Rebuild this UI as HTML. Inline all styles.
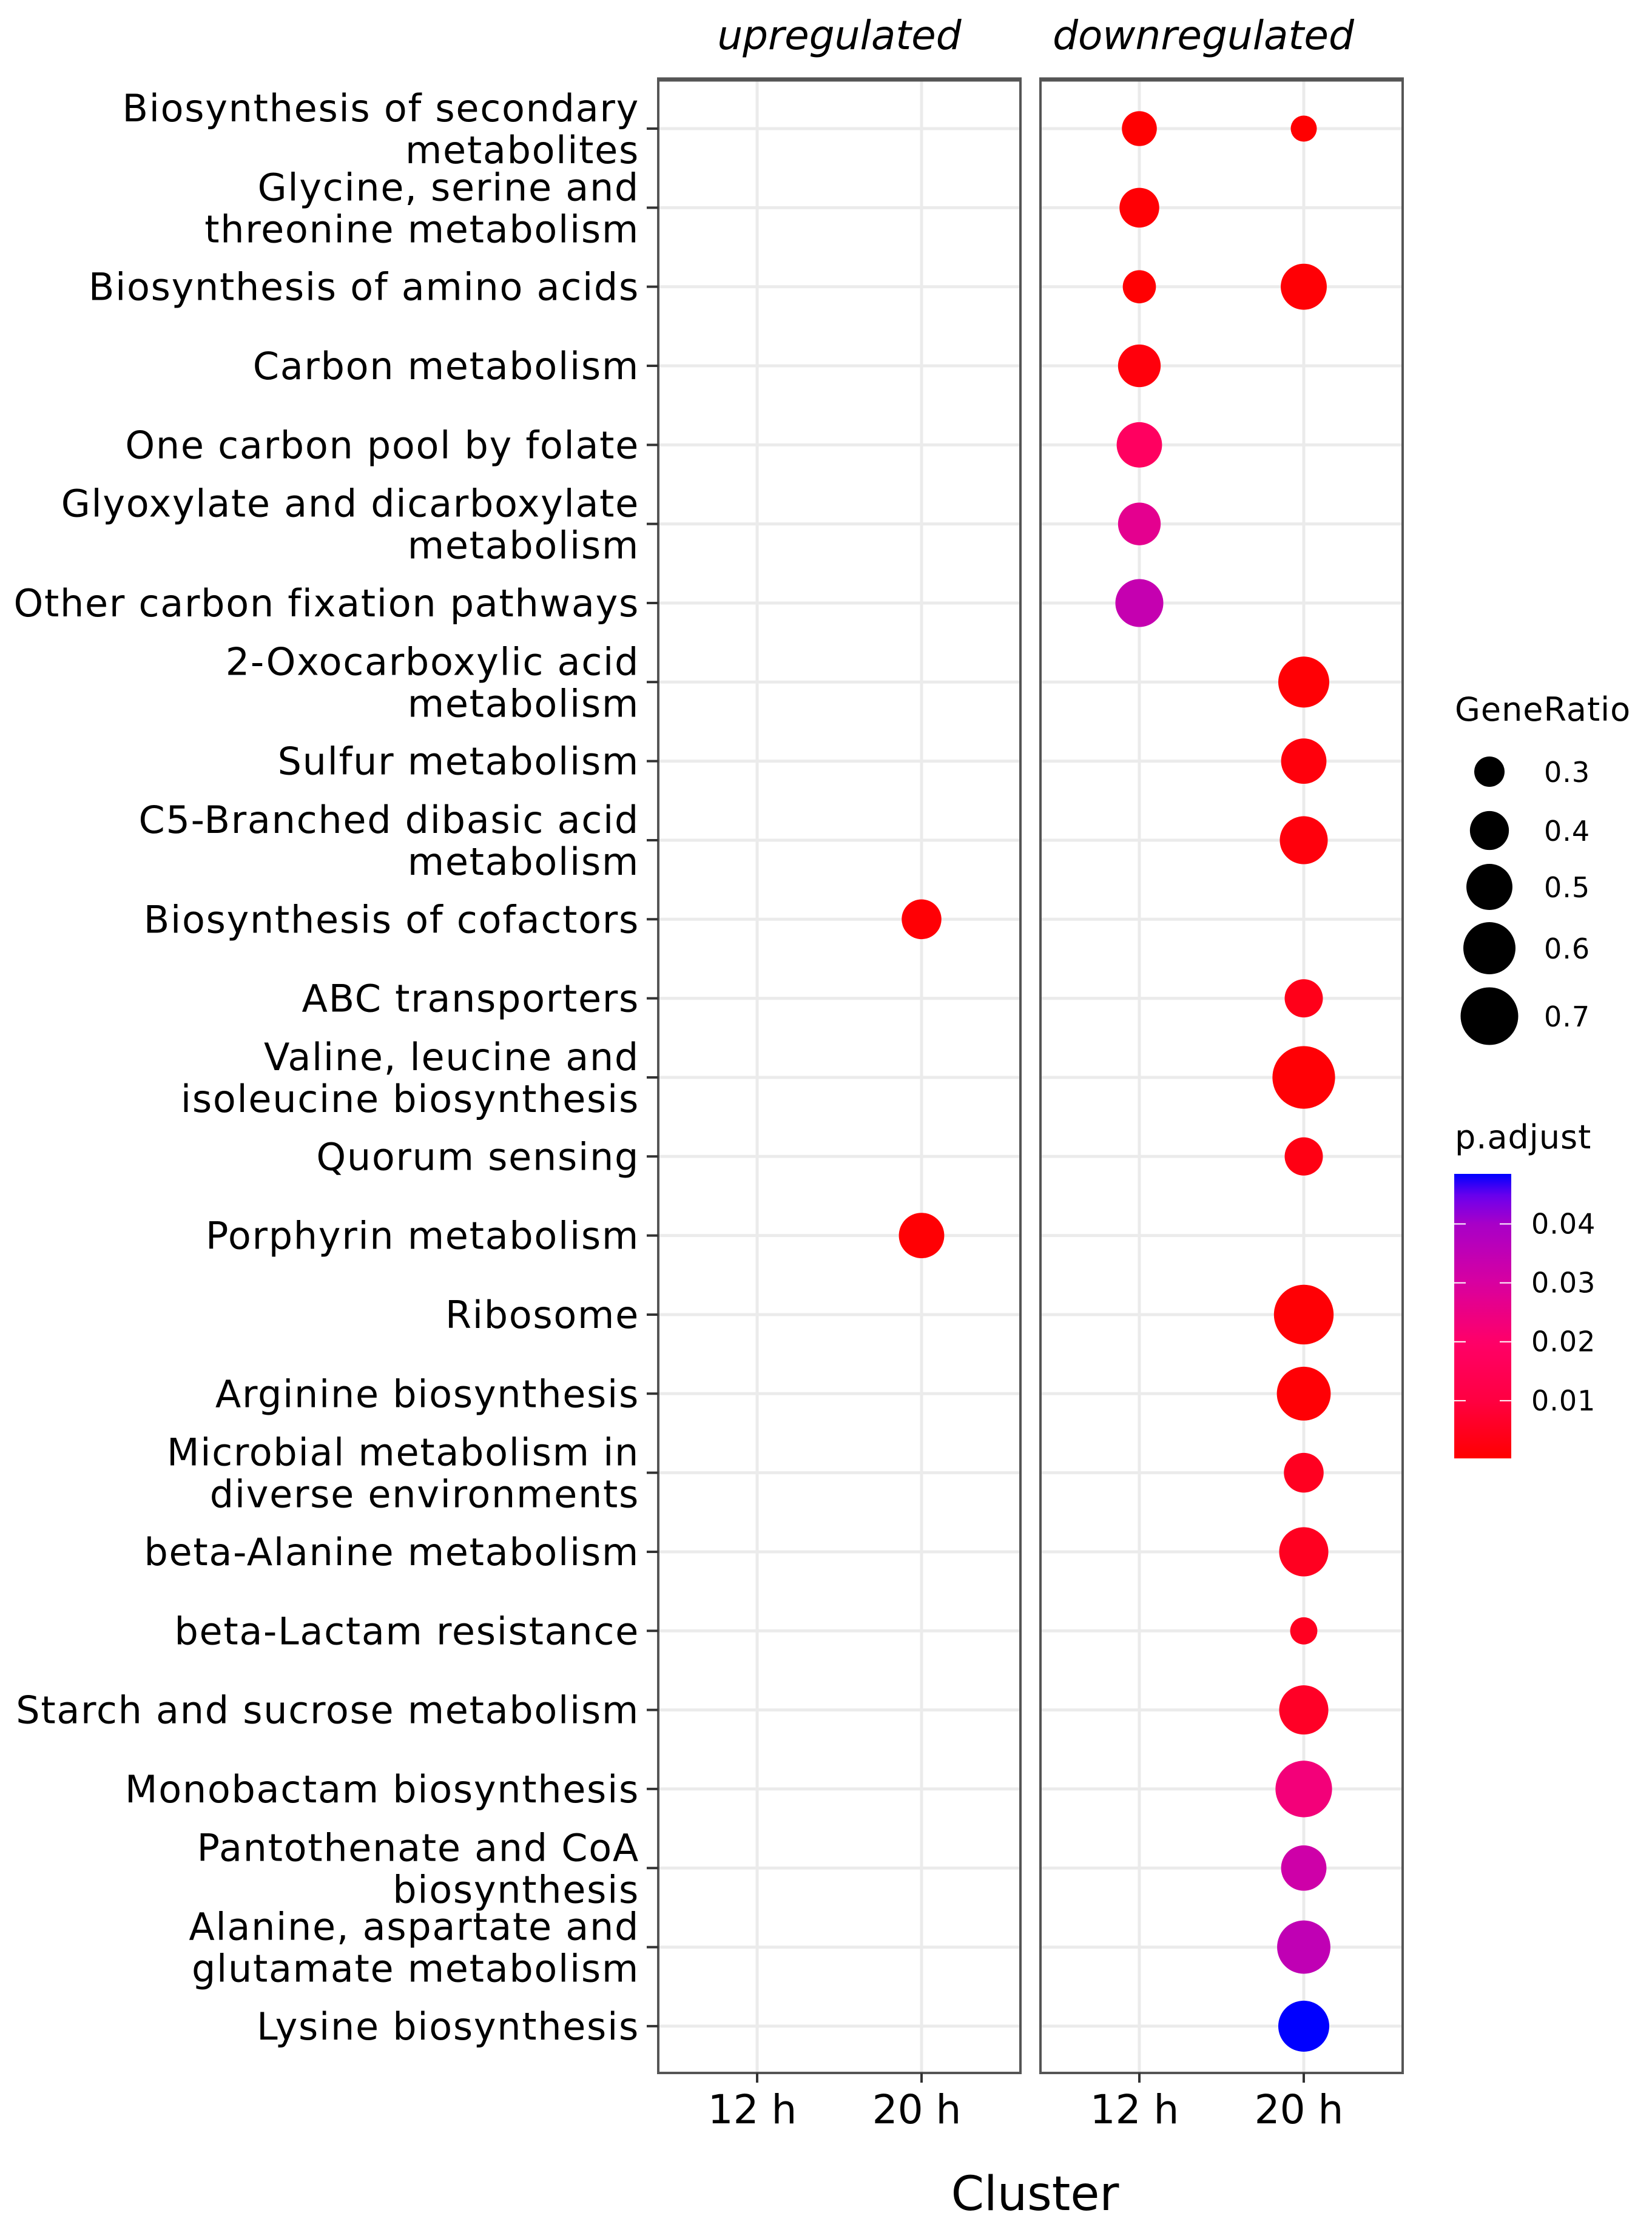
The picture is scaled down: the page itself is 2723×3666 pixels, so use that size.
<!DOCTYPE html>
<html><head><meta charset="utf-8"><style>
html,body{margin:0;padding:0;background:#fff}
svg{display:block}
text{font-family:"DejaVu Sans","Liberation Sans",sans-serif;fill:#000}
</style></head><body>
<svg id="chart" width="2723" height="3666" viewBox="0 0 2723 3666" xmlns="http://www.w3.org/2000/svg"></svg>
<script>
const categories = [
 ["Biosynthesis of secondary","metabolites"],["Glycine, serine and","threonine metabolism"],["Biosynthesis of amino acids"],["Carbon metabolism"],["One carbon pool by folate"],["Glyoxylate and dicarboxylate","metabolism"],["Other carbon fixation pathways"],["2-Oxocarboxylic acid","metabolism"],["Sulfur metabolism"],["C5-Branched dibasic acid","metabolism"],["Biosynthesis of cofactors"],["ABC transporters"],["Valine, leucine and","isoleucine biosynthesis"],["Quorum sensing"],["Porphyrin metabolism"],["Ribosome"],["Arginine biosynthesis"],["Microbial metabolism in","diverse environments"],["beta-Alanine metabolism"],["beta-Lactam resistance"],["Starch and sucrose metabolism"],["Monobactam biosynthesis"],["Pantothenate and CoA","biosynthesis"],["Alanine, aspartate and","glutamate metabolism"],["Lysine biosynthesis"]
];
const facets = ["upregulated","downregulated"];
const clusters = ["12 h","20 h"];
const pointCat =     [0,0,1,2,2,3,4,5,6,7,8,9,10,11,12,13,14,15,16,17,18,19,20,21,22,23,24];
const pointFacet =   [1,1,1,1,1,1,1,1,1,1,1,1,0,1,1,1,0,1,1,1,1,1,1,1,1,1,1];
const pointCluster = [0,1,0,0,1,0,0,0,0,1,1,1,1,1,1,1,1,1,1,1,1,1,1,1,1,1,1];
const geneRatio =    [0.35,0.26,0.41,0.33,0.50,0.45,0.49,0.45,0.53,0.58,0.49,0.53,0.41,0.39,0.80,0.39,0.49,0.74,0.63,0.41,0.55,0.27,0.55,0.68,0.49,0.62,0.58];
const pAdjust =      [0.0003,0.0004,0.001,0.0005,0.001,0.002,0.018,0.027,0.034,0.001,0.002,0.002,0.001,0.004,0.001,0.003,0.0008,0.001,0.001,0.005,0.005,0.005,0.006,0.023,0.032,0.035,0.0485];
const sizeBreaks = [0.3,0.4,0.5,0.6,0.7];
const colorBreaks = [0.04,0.03,0.02,0.01];
const pMin = 0.0002, pMax = 0.0485;
const colorStopT = [0,0.2,0.41,0.617,0.824,0.92,1];
const colorStopC = [[255,0,0],[255,0,64],[255,0,104],[216,0,160],[168,0,200],[110,0,236],[0,0,255]];

const NS="http://www.w3.org/2000/svg";
const svg=document.getElementById('chart');
function mk(tag,attrs,parent){const e=document.createElementNS(NS,tag);for(const k in attrs)e.setAttribute(k,attrs[k]);(parent||svg).appendChild(e);return e;}

const rowY0=212, rowStep=130.33;
const yPos=i=>rowY0+i*rowStep;
const panelX=[1085,1715], panelW=597, panelTop=131, panelBot=3417;
const xPos=(f,c)=>panelX[f]+163+c*271;
const diam=r=>Math.sqrt(Math.max(200,2500+(r-0.3)*16312));

function colorOf(p){let t=(p-pMin)/(pMax-pMin);t=Math.max(0,Math.min(1,t));
  for(let i=1;i<colorStopT.length;i++){if(t<=colorStopT[i]){const u=(t-colorStopT[i-1])/(colorStopT[i]-colorStopT[i-1]);const a=colorStopC[i-1],b=colorStopC[i];
    return `rgb(${Math.round(a[0]+(b[0]-a[0])*u)},${Math.round(a[1]+(b[1]-a[1])*u)},${Math.round(a[2]+(b[2]-a[2])*u)})`;}}
  return 'rgb(0,0,255)';}

for(let f=0;f<2;f++){
  const g=mk('g',{});
  
  
  mk('rect',{x:panelX[f],y:panelTop,width:panelW,height:panelBot-panelTop,fill:'#fff'},g);
  categories.forEach((c,i)=>{const l=mk('line',{x1:panelX[f],x2:panelX[f]+panelW,y1:yPos(i),y2:yPos(i),stroke:'#ebebeb','stroke-width':5},g);
    });
  clusters.forEach((c,j)=>{const l=mk('line',{x1:xPos(f,j),x2:xPos(f,j),y1:panelTop,y2:panelBot,stroke:'#ebebeb','stroke-width':5},g);
    });
  const b=mk('rect',{x:panelX[f],y:panelTop,width:panelW,height:panelBot-panelTop,fill:'none',stroke:'#555','stroke-width':4},g);
  
  const tl=mk('line',{x1:panelX[f]-2,x2:panelX[f]+panelW+2,y1:panelTop,y2:panelTop,stroke:'#555','stroke-width':7},g);
  
  const st=mk('text',{x:panelX[f]+panelW/2-(f===1?30:0),y:81,'text-anchor':'middle','font-size':66,'font-style':'italic'},g);
  st.textContent=facets[f];
  
  clusters.forEach((c,j)=>{
    const tk=mk('line',{x1:xPos(f,j),x2:xPos(f,j),y1:panelBot,y2:panelBot+16,stroke:'#333','stroke-width':4},g);
    
    const t=mk('text',{x:xPos(f,j)-8,y:3500,'text-anchor':'middle','font-size':66},g);
    t.textContent=c;
    
  });
}

categories.forEach((c,i)=>{
  const y=yPos(i);
  const tk=mk('line',{x1:1066,x2:1085,y1:y,y2:y,stroke:'#333','stroke-width':4});
  
  const t=mk('text',{x:1054,'text-anchor':'end','font-size':62,'letter-spacing':1.7});
  
  if(c.length===1){t.setAttribute('y',y+22);t.textContent=c[0];}
  else{
    const a=mk('tspan',{x:1054,y:y-12},t);a.textContent=c[0];
    const b=mk('tspan',{x:1054,y:y+57},t);b.textContent=c[1];
  }
});

for(let k=0;k<pointCat.length;k++){
  const c=mk('circle',{cx:xPos(pointFacet[k],pointCluster[k]),cy:yPos(pointCat[k]),r:diam(geneRatio[k])/2,fill:colorOf(pAdjust[k])});
  
  
}

const at=mk('text',{x:1706,y:3643,'text-anchor':'middle','font-size':78});
at.textContent='Cluster';


const lt=mk('text',{x:2398,y:1188,'font-size':54,'letter-spacing':1});
lt.textContent='GeneRatio';

const legY=[1272,1369,1462,1563,1675];
sizeBreaks.forEach((s,i)=>{
  const c=mk('circle',{cx:2455,cy:legY[i],r:diam(s)/2,fill:'#000'});
  
  const t=mk('text',{x:2545,y:legY[i]+17,'font-size':46,'letter-spacing':1});
  t.textContent=s.toFixed(1);
  
});

const pt=mk('text',{x:2398,y:1893,'font-size':54,'letter-spacing':1});
pt.textContent='p.adjust';

const defs=mk('defs',{});
const grad=mk('linearGradient',{id:'pg',x1:0,y1:1,x2:0,y2:0},defs);
for(let i=0;i<=40;i++){mk('stop',{offset:(i/40),'stop-color':colorOf(pMin+(pMax-pMin)*i/40)},grad);}
const cbTop=1935,cbBot=2404;
const cb=mk('rect',{x:2397,y:cbTop,width:94,height:cbBot-cbTop,fill:'url(#pg)'});

const cy=p=>cbBot-(p-pMin)/(pMax-pMin)*(cbBot-cbTop);
colorBreaks.forEach(p=>{
  const y=cy(p);
  mk('line',{x1:2397,x2:2416,y1:y,y2:y,stroke:'#fff','stroke-width':2});
  mk('line',{x1:2472,x2:2491,y1:y,y2:y,stroke:'#fff','stroke-width':2});
  const t=mk('text',{x:2524,y:y+16,'font-size':46,'letter-spacing':1});
  t.textContent=p.toFixed(2);
  
});
</script>
</body></html>
